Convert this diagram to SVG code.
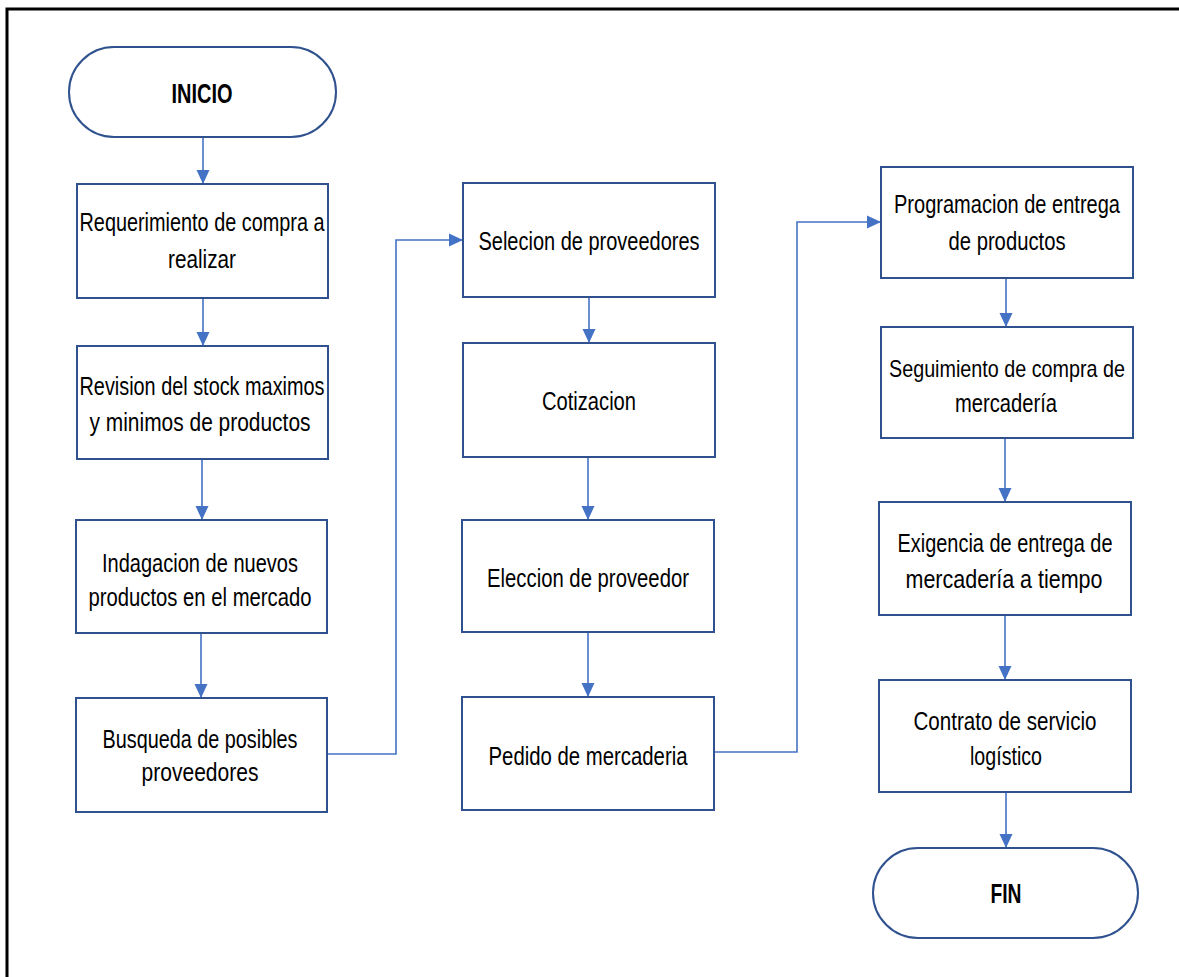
<svg xmlns="http://www.w3.org/2000/svg" width="1179" height="977" viewBox="0 0 1179 977">
<defs>
<marker id="ah" markerUnits="userSpaceOnUse" markerWidth="14" markerHeight="14" viewBox="0 0 14 14" refX="14" refY="7" orient="auto">
<path d="M0,0.5 L14,7 L0,13.5 Z" fill="#4472C4"/>
</marker>
<style>
.box{fill:#fff;stroke:#2F528F;stroke-width:2}
.term{fill:#fff;stroke:#2F528F;stroke-width:2}
.t{font-family:"Liberation Sans Narrow","Liberation Sans",Arial,sans-serif;font-size:25px;fill:#000;text-anchor:middle}
.s{font-size:24px}
.b{font-family:"Liberation Sans Narrow","Liberation Sans",Arial,sans-serif;font-size:27px;font-weight:bold;fill:#000;text-anchor:middle}
.c{fill:none;stroke:#4472C4;stroke-width:1.6}
</style>
</defs>
<rect width="1179" height="977" fill="#fff"/>
<path d="M7,977 L7,9 L1179,9" fill="none" stroke="#000" stroke-width="3"/>

<g id="connectors">
<path class="c" d="M203,137 L203,184" marker-end="url(#ah)"/>
<path class="c" d="M203,298 L203,346" marker-end="url(#ah)"/>
<path class="c" d="M202,459 L202,520" marker-end="url(#ah)"/>
<path class="c" d="M201,633 L201,698" marker-end="url(#ah)"/>
<path class="c" d="M327,754 L396,754 L396,240 L463,240" marker-end="url(#ah)"/>
<path class="c" d="M589,297 L589,343" marker-end="url(#ah)"/>
<path class="c" d="M588,457 L588,520" marker-end="url(#ah)"/>
<path class="c" d="M588,632 L588,697" marker-end="url(#ah)"/>
<path class="c" d="M714,752 L797,752 L797,222 L881,222" marker-end="url(#ah)"/>
<path class="c" d="M1006,278 L1006,327" marker-end="url(#ah)"/>
<path class="c" d="M1005,438 L1005,502" marker-end="url(#ah)"/>
<path class="c" d="M1005,615 L1005,680" marker-end="url(#ah)"/>
<path class="c" d="M1006,792 L1006,848" marker-end="url(#ah)"/>
</g>

<g id="inicio">
<rect class="term" x="69" y="47" width="267" height="90" rx="45" ry="45"/>
<text class="b" x="202" y="103" textLength="61" lengthAdjust="spacingAndGlyphs">INICIO</text>
</g>

<g id="n1">
<rect class="box" x="77" y="184" width="251" height="114"/>
<text class="t" x="202" y="231" textLength="245" lengthAdjust="spacingAndGlyphs">Requerimiento de compra a</text>
<text class="t" x="202" y="268" textLength="68" lengthAdjust="spacingAndGlyphs">realizar</text>
</g>
<g id="n2">
<rect class="box" x="77" y="346" width="251" height="113"/>
<text class="t" x="202" y="395" textLength="245" lengthAdjust="spacingAndGlyphs">Revision del stock maximos</text>
<text class="t" x="200" y="431" textLength="221" lengthAdjust="spacingAndGlyphs">y minimos de productos</text>
</g>
<g id="n3">
<rect class="box" x="76" y="520" width="251" height="113"/>
<text class="t" x="200" y="572" textLength="196" lengthAdjust="spacingAndGlyphs">Indagacion de nuevos</text>
<text class="t" x="200" y="606" textLength="223" lengthAdjust="spacingAndGlyphs">productos en el mercado</text>
</g>
<g id="n4">
<rect class="box" x="76" y="698" width="251" height="114"/>
<text class="t" x="200" y="748" textLength="195" lengthAdjust="spacingAndGlyphs">Busqueda de posibles</text>
<text class="t" x="200" y="781" textLength="117" lengthAdjust="spacingAndGlyphs">proveedores</text>
</g>

<g id="n5">
<rect class="box" x="463" y="183" width="252" height="114"/>
<text class="t" x="589" y="250" textLength="221" lengthAdjust="spacingAndGlyphs">Selecion de proveedores</text>
</g>
<g id="n6">
<rect class="box" x="463" y="343" width="252" height="114"/>
<text class="t" x="589" y="410" textLength="94" lengthAdjust="spacingAndGlyphs">Cotizacion</text>
</g>
<g id="n7">
<rect class="box" x="462" y="520" width="252" height="112"/>
<text class="t" x="588" y="587" textLength="202" lengthAdjust="spacingAndGlyphs">Eleccion de proveedor</text>
</g>
<g id="n8">
<rect class="box" x="462" y="697" width="252" height="113"/>
<text class="t" x="588" y="765" textLength="199" lengthAdjust="spacingAndGlyphs">Pedido de mercaderia</text>
</g>

<g id="n9">
<rect class="box" x="881" y="167" width="252" height="111"/>
<text class="t" x="1007" y="213" textLength="226" lengthAdjust="spacingAndGlyphs">Programacion de entrega</text>
<text class="t" x="1007" y="250" textLength="117" lengthAdjust="spacingAndGlyphs">de productos</text>
</g>
<g id="n10">
<rect class="box" x="881" y="327" width="252" height="111"/>
<text class="t s" x="1007" y="377" textLength="236" lengthAdjust="spacingAndGlyphs">Seguimiento de compra de</text>
<text class="t" x="1006" y="412" textLength="102" lengthAdjust="spacingAndGlyphs">mercadería</text>
</g>
<g id="n11">
<rect class="box" x="879" y="502" width="252" height="113"/>
<text class="t" x="1005" y="552" textLength="215" lengthAdjust="spacingAndGlyphs">Exigencia de entrega de</text>
<text class="t" x="1004" y="588" textLength="197" lengthAdjust="spacingAndGlyphs">mercadería a tiempo</text>
</g>
<g id="n12">
<rect class="box" x="879" y="680" width="252" height="112"/>
<text class="t" x="1005" y="730" textLength="183" lengthAdjust="spacingAndGlyphs">Contrato de servicio</text>
<text class="t" x="1006" y="765" textLength="72" lengthAdjust="spacingAndGlyphs">logístico</text>
</g>

<g id="fin">
<rect class="term" x="873" y="848" width="265" height="90" rx="45" ry="45"/>
<text class="b" x="1006" y="903" textLength="31" lengthAdjust="spacingAndGlyphs">FIN</text>
</g>
</svg>
